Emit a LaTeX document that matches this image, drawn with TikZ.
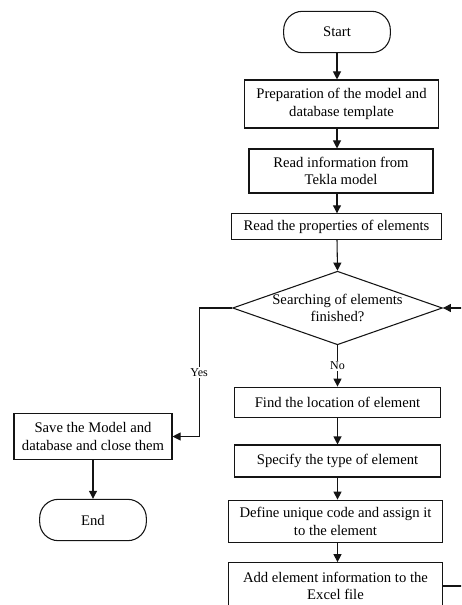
\documentclass[tikz,border=0pt]{standalone}
\usepackage{fontspec}
\setmainfont{Liberation Serif}
\usepackage{tikz}
\usetikzlibrary{
  shapes.geometric,
  arrows.meta
}
\definecolor{linecolor}{RGB}{20, 20, 20}
\tikzset{
blocktext/.style={
  align=center,
  font=\fontsize{11}{13}\selectfont,
  text=black
},
processblock/.style={
  draw=linecolor,
  line width=0.8pt,
  inner sep=2pt,
  blocktext
},
terminalblock/.style={
  draw=linecolor,
  line width=0.8pt,
  rounded corners=14pt,
  minimum width=80pt,
  minimum height=31pt,
  blocktext
},
decisionblock/.style={
  draw=linecolor,
  line width=0.8pt,
  diamond,
  aspect=2.85,
  inner sep=0pt,
  minimum width=154pt,
  minimum height=54pt,
  blocktext
},
branchlabel/.style={
  fill=white,
  inner sep=1pt,
  font=\fontsize{9}{11}\selectfont
},
arrow/.style={
  -{Triangle[length=6pt,width=6pt]},
  line width=0.8pt,
  draw=linecolor
}
}

\begin{document}
\begin{tikzpicture}[x=0.75pt, y=-0.75pt]
        \useasboundingbox (0,0) rectangle (461,605);
        \clip (0,0) rectangle (461,605);
        % main column
        \node[terminalblock] (start) at (337,32) {Start};
        \node[processblock, minimum width=146pt, minimum height=36pt] (prep) at (341.5,104) {Preparation of the model and\\database template};
        \node[processblock, minimum width=138pt, minimum height=33pt] (read) at (341,171) {Read information from\\Tekla model};
        \node[processblock, minimum width=157pt, minimum height=19pt] (props) at (336.5,226.5) {Read the properties of elements};
        \node[decisionblock] (search) at (337.5,308) {Searching of elements\\finished?};
        \node[processblock, minimum width=154pt, minimum height=23pt] (find) at (337.5,402.5) {Find the location of element};
        \node[processblock, minimum width=154pt, minimum height=24pt] (type) at (337.5,461) {Specify the type of element};
        \node[processblock, minimum width=160pt, minimum height=32pt] (code) at (335.5,521.5) {Define unique code and assign it\\to the element};
        \node[processblock, minimum width=160pt, minimum height=35pt] (excel) at (335.5,586) {Add element information to the\\Excel file};
        % left column
        \node[processblock, minimum width=118.5pt, minimum height=35pt] (save) at (93,436.5) {Save the Model and\\database and close them};
        \node[terminalblock] (end) at (93,520) {End};

        % straight down the main column
        \draw[arrow] (start.south) -- (start.south |- prep.north);
        \draw[arrow] (start.south |- prep.south) -- (start.south |- read.north);
        \draw[arrow] (start.south |- read.south) -- (start.south |- props.north);
        \draw[arrow] (start.south |- props.south) -- (search.north);
        \draw[arrow] (search.south) -- node[branchlabel] {No} (search.south |- find.north);
        \draw[arrow] (search.south |- find.south) -- (search.south |- type.north);
        \draw[arrow] (search.south |- type.south) -- (search.south |- code.north);
        \draw[arrow] (search.south |- code.south) -- (search.south |- excel.north);
        \draw[arrow] (search.west) -- ++(-33,0) |- node[branchlabel, pos=0.25] {Yes} (save.east);
        \draw[arrow] (save) -- (end);
        % loop back (runs off the right edge)
        \draw[arrow] (excel.east) -- ++(40,0) |- (search.east);
      \end{tikzpicture}
\end{document}
